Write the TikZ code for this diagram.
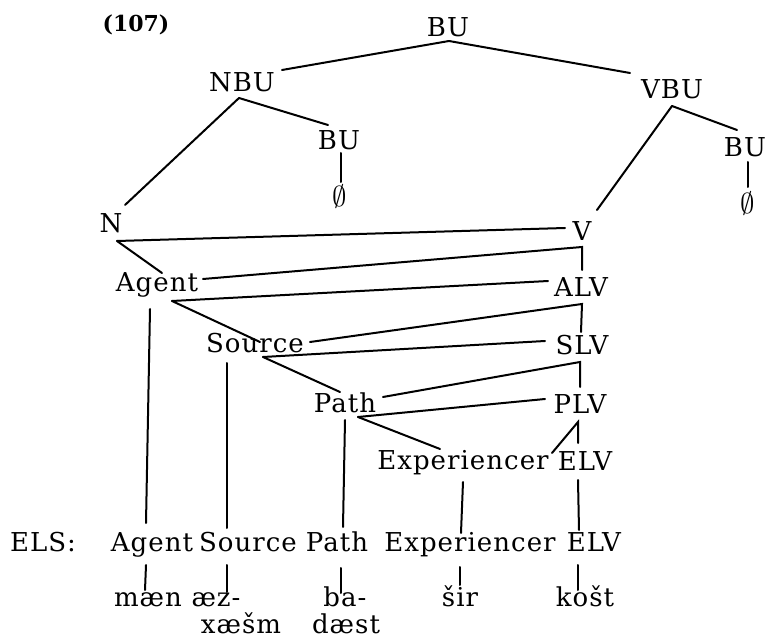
\documentclass[tikz,border=0pt]{standalone}
\usepackage{fontspec}
\setmainfont{DejaVu Serif}[LetterSpace=4]
\begin{document}
\begin{tikzpicture}[x=0.5pt,y=-0.5pt,
  lbl/.style={anchor=base,inner sep=0pt,font=\fontsize{13}{15}\selectfont},
  nul/.style={anchor=base,inner sep=0pt,font=\fontsize{14.5}{16}\selectfont},
  edge/.style={line width=1pt,line cap=round}]
\useasboundingbox (0,0) rectangle (767,642);
% labels
\node[lbl,font=\fontsize{11}{13}\selectfont\bfseries\addfontfeature{LetterSpace=0}] (ex) at (136,32) {(107)};
\node[lbl] (BU0) at (448,37) {BU};
\node[lbl] (NBU) at (242,92) {NBU};
\node[lbl] (VBU) at (672,99) {VBU};
\node[lbl] (BUa) at (339,150) {BU};
\node[nul] (Ea) at (340,207) {$\emptyset$};
\node[lbl] (BUb) at (745,157) {BU};
\node[nul] (Eb) at (748,214) {$\emptyset$};
\node[lbl] (N) at (111,233) {N};
\node[lbl] (V) at (582,241) {V};
\node[lbl] (Ag) at (157,292) {Agent};
\node[lbl] (ALV) at (581,297) {ALV};
\node[lbl] (So) at (255,352) {Source};
\node[lbl] (SLV) at (582,355) {SLV};
\node[lbl] (Pa) at (345,412) {Path};
\node[lbl] (PLV) at (580,413) {PLV};
\node[lbl] (Ex) at (463,469) {Experiencer};
\node[lbl] (ELV) at (585,470) {ELV};
\node[lbl] (ELS) at (43,551) {ELS:};
\node[lbl] (Ag2) at (152,551) {Agent};
\node[lbl] (So2) at (248,551) {Source};
\node[lbl] (Pa2) at (337,551) {Path};
\node[lbl] (Ex2) at (470,551) {Experiencer};
\node[lbl] (ELV2) at (594,551) {ELV};
\node[lbl] (w1) at (148,606) {mæn};
\node[lbl] (w2) at (216,606) {æz-};
\node[lbl] (w2b) at (241,633) {xæšm};
\node[lbl] (w3) at (345,606) {ba-};
\node[lbl] (w3b) at (346,633) {dæst};
\node[lbl] (w4) at (460,606) {šir};
\node[lbl] (w5) at (585,606) {košt};
% junction points
\coordinate (BU0b) at (449,41);
\coordinate (NBUt) at (282,70);
\coordinate (VBUt) at (630,73);
\coordinate (NBUb) at (239,98);
\coordinate (Nt) at (125,205);
\coordinate (BUat) at (328,125);
\coordinate (BUab) at (341,153);
\coordinate (Eat) at (341,182);
\coordinate (VBUb) at (672,106);
\coordinate (Vt) at (597,210);
\coordinate (BUbt) at (737,130);
\coordinate (BUbb) at (748,162);
\coordinate (Ebt) at (748,187);
\coordinate (Nb) at (117,241);
\coordinate (Vl) at (565,228);
\coordinate (Agt) at (162,273);
\coordinate (Agr) at (203,279);
\coordinate (Vb) at (582,247);
\coordinate (ALVt) at (582,270);
\coordinate (Agb) at (172,301);
\coordinate (ALVl) at (548,281);
\coordinate (Sot) at (260,342);
\coordinate (Sor) at (310,342);
\coordinate (ALVb) at (582,304);
\coordinate (SLVt) at (581,332);
\coordinate (Sob) at (263,357);
\coordinate (SLVl) at (545,341);
\coordinate (Pat) at (340,392);
\coordinate (Par) at (383,397);
\coordinate (SLVb) at (580,362);
\coordinate (PLVt) at (580,387);
\coordinate (Pab) at (358,417);
\coordinate (PLVl) at (545,399);
\coordinate (Ext) at (440,449);
\coordinate (Exr) at (552,453);
\coordinate (PLVb) at (578,422);
\coordinate (ELVt) at (578,443);
% tree edges
\draw[edge] (BU0b) -- (NBUt);
\draw[edge] (BU0b) -- (VBUt);
\draw[edge] (NBUb) -- (Nt);
\draw[edge] (NBUb) -- (BUat);
\draw[edge] (BUab) -- (Eat);
\draw[edge] (VBUb) -- (Vt);
\draw[edge] (VBUb) -- (BUbt);
\draw[edge] (BUbb) -- (Ebt);
\draw[edge] (Nb) -- (Vl);
\draw[edge] (Nb) -- (Agt);
\draw[edge] (Agr) -- (Vb) -- (ALVt);
\draw[edge] (Agb) -- (ALVl);
\draw[edge] (Agb) -- (Sot);
\draw[edge] (Sor) -- (ALVb) -- (SLVt);
\draw[edge] (Sob) -- (SLVl);
\draw[edge] (Sob) -- (Pat);
\draw[edge] (Par) -- (SLVb) -- (PLVt);
\draw[edge] (Pab) -- (PLVl);
\draw[edge] (Pab) -- (Ext);
\draw[edge] (Exr) -- (PLVb) -- (ELVt);
% verticals to ELS row
\draw[edge] (150,309) coordinate (Agv) -- (146,523) coordinate (Ag2t);
\draw[edge] (227,363) coordinate (Sov) -- (227,528) coordinate (So2t);
\draw[edge] (345,420) coordinate (Pav) -- (343,527) coordinate (Pa2t);
\draw[edge] (463,482) coordinate (Exv) -- (461,533) coordinate (Ex2t);
\draw[edge] (578,480) coordinate (ELVv) -- (579,530) coordinate (ELV2t);
% verticals to words
\draw[edge] (146,565) coordinate (Ag2b) -- (145,590) coordinate (w1t);
\draw[edge] (227,565) coordinate (So2b) -- (227,592) coordinate (w2t);
\draw[edge] (341,568) coordinate (Pa2b) -- (341,593) coordinate (w3t);
\draw[edge] (460,567) coordinate (Ex2b) -- (460,585) coordinate (w4t);
\draw[edge] (578,565) coordinate (ELV2b) -- (578,590) coordinate (w5t);
\end{tikzpicture}
\end{document}
